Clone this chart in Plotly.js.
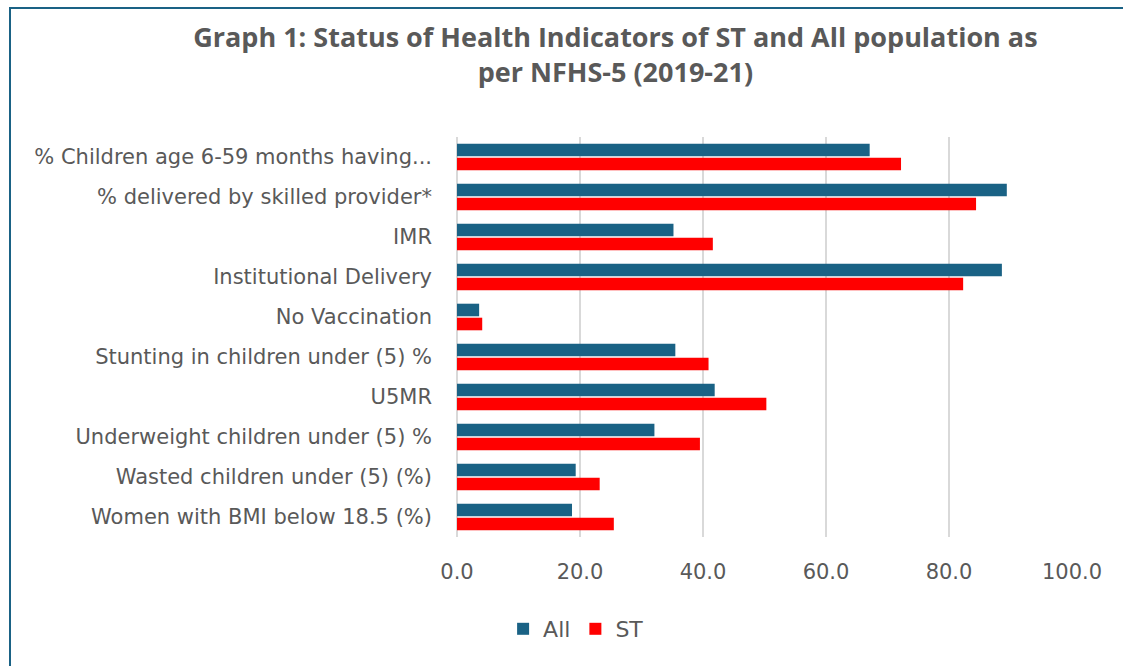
<!DOCTYPE html>
<html>
<head>
<meta charset="utf-8">
<script src="https://cdn.plot.ly/plotly-3.0.1.min.js"></script>
<style>
html,body{margin:0;padding:0;background:#fff;}
#wrap{position:relative;width:1123px;height:666px;}
#chart{position:absolute;left:0;top:0;width:1123px;height:666px;}
#frame{position:absolute;left:9px;top:7px;width:1114px;height:659px;border-left:2px solid #1a6285;border-top:2px solid #1a6285;pointer-events:none;}
</style>
</head>
<body>
<div id="wrap"><div id="chart"></div><div id="frame"></div></div>
<script>
const categories = [
  "% Children age 6-59 months having...",
  "% delivered by skilled provider*",
  "IMR",
  "Institutional Delivery",
  "No Vaccination",
  "Stunting in children under (5) %",
  "U5MR",
  "Underweight children under (5) %",
  "Wasted children under (5) (%)",
  "Women with BMI below 18.5 (%)"
];
const allValues = [67.1, 89.4, 35.2, 88.6, 3.6, 35.5, 41.9, 32.1, 19.3, 18.7];
const stValues  = [72.2, 84.4, 41.6, 82.3, 4.1, 40.9, 50.3, 39.5, 23.2, 25.5];
const xTickVals = [0, 20, 40, 60, 80, 100];
const xTickText = ["0.0", "20.0", "40.0", "60.0", "80.0", "100.0"];

const txt = '#595959';
const fontFam = '"DejaVu Sans", sans-serif';

const data = [
  {type:'bar', orientation:'h', name:'All', y:categories, x:allValues,
   marker:{color:'#1a6285'}, hoverinfo:'x+y'},
  {type:'bar', orientation:'h', name:'ST', y:categories, x:stValues,
   marker:{color:'#ff0000'}, hoverinfo:'x+y'}
];

const layout = {
  width:1123, height:666,
  paper_bgcolor:'rgba(0,0,0,0)', plot_bgcolor:'#fff',
  margin:{l:457, r:51, t:137, b:129},
  barmode:'group', bargap:0.3, bargroupgap:0.1,
  title:{
    text:'<b>Graph 1: Status of Health Indicators of ST and All population as<br>per NFHS-5 (2019-21)</b>',
    font:{family:'"Open Sans", sans-serif', size:27, color:txt},
    xref:'container', x:0.548, xanchor:'center',
    yref:'container', y:1-47/666, yanchor:'middle'
  },
  xaxis:{
    range:[0,100], tickvals:xTickVals, ticktext:xTickText,
    showgrid:true, gridcolor:'#d9d9d9', gridwidth:1.5,
    zeroline:true, zerolinecolor:'#d9d9d9', zerolinewidth:1.5,
    showline:false, ticks:'', ticklabelstandoff:20,
    tickfont:{family:fontFam, size:21, color:txt}, fixedrange:true
  },
  yaxis:{
    autorange:'reversed', type:'category',
    showgrid:false, zeroline:false, showline:false, ticks:'',
    ticklabelstandoff:24,
    tickfont:{family:fontFam, size:21, color:txt}, fixedrange:true
  },
  legend:{
    orientation:'h', xref:'container', x:0.513, xanchor:'center',
    yref:'container', y:1-629/666, yanchor:'middle',
    font:{family:fontFam, size:22, color:txt},
    itemwidth:30, traceorder:'normal'
  },
  showlegend:true
};

Plotly.newPlot('chart', data, layout, {displayModeBar:false, staticPlot:true});
</script>
</body>
</html>
